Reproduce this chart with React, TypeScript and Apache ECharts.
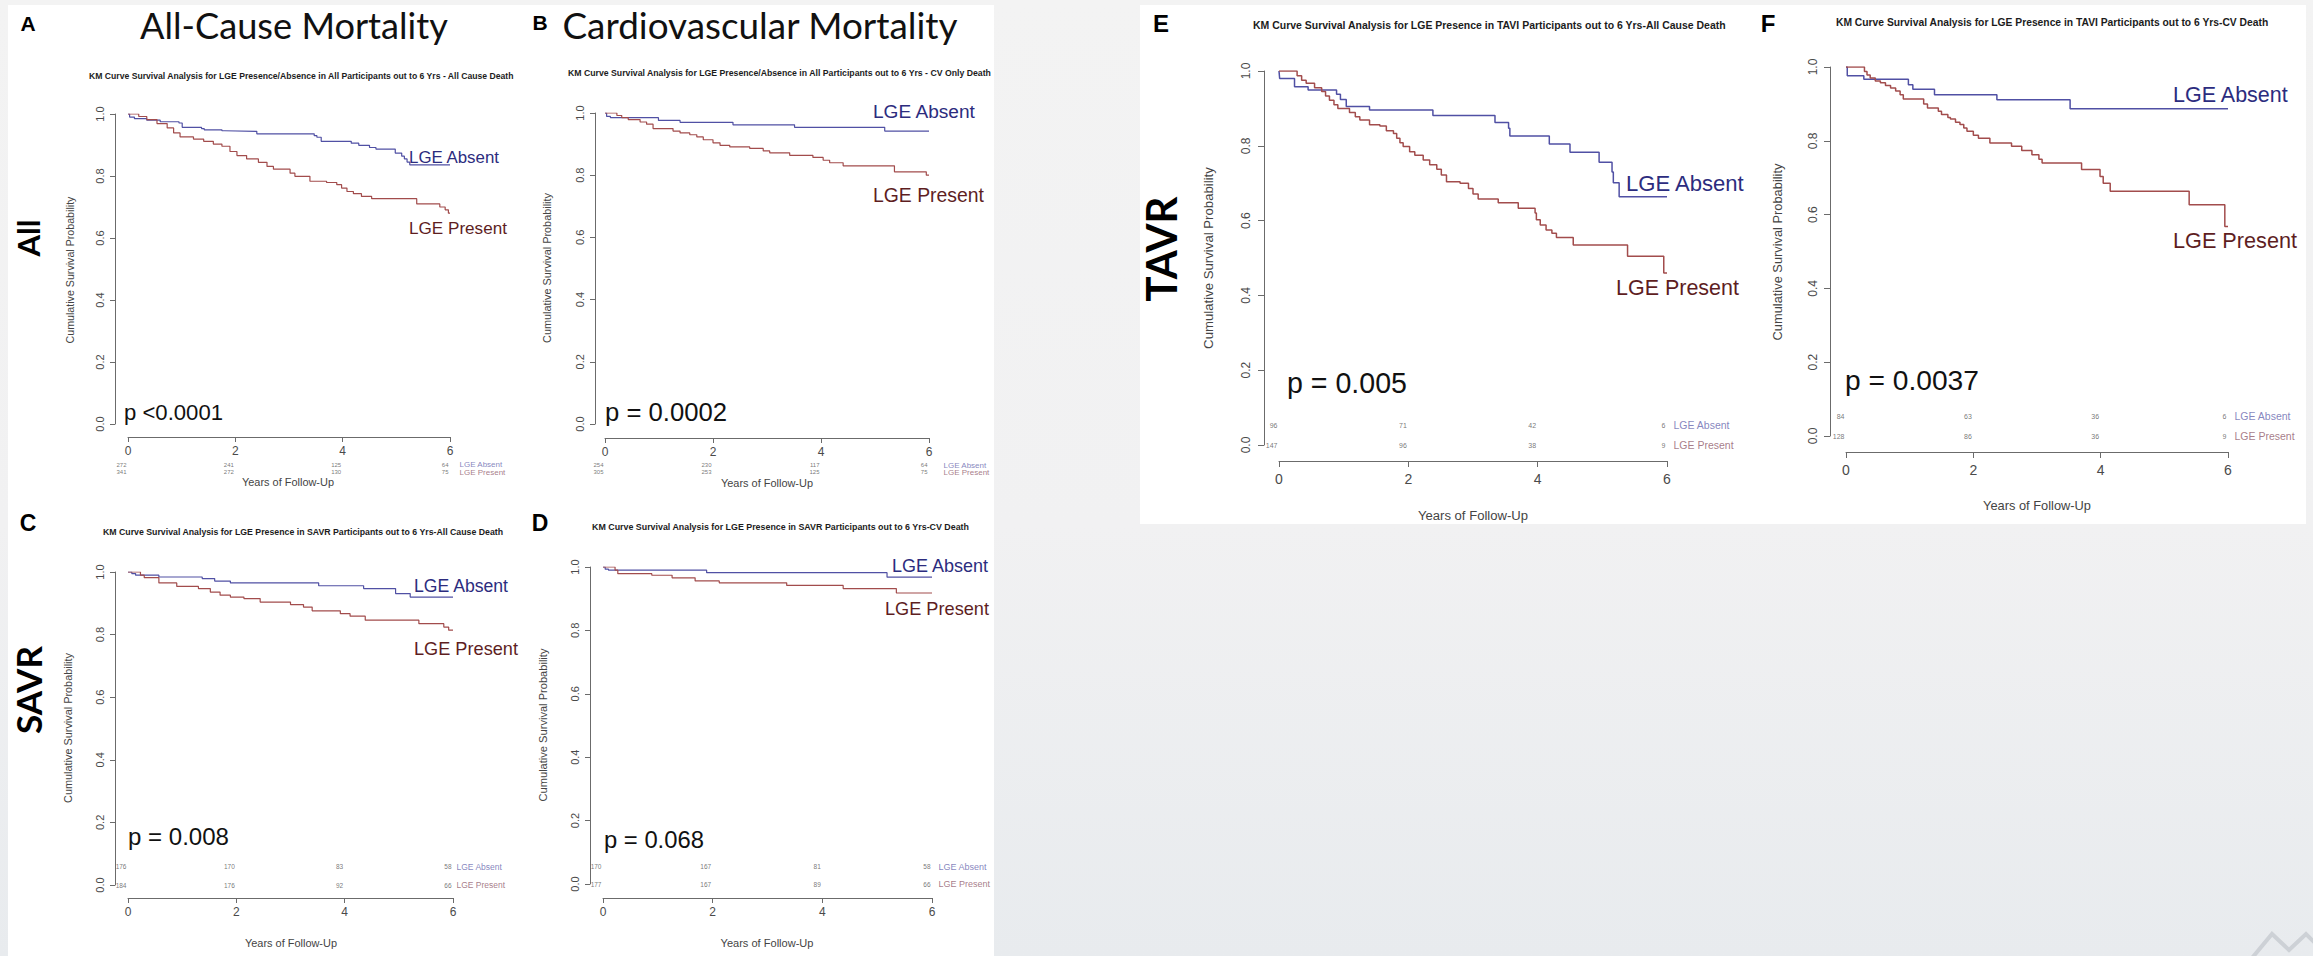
import React, { useEffect, useRef } from "react";
import * as echarts from "echarts";

type Pt = [number, number];

// ---------------- ticks / labels ----------------
const YEAR_TICKS = [0, 2, 4, 6];
const GROUPS = ["LGE Absent", "LGE Present"];
const COLUMN_TITLES = ["All-Cause Mortality", "Cardiovascular Mortality"];
const ROW_TITLES = ["All", "SAVR", "TAVR"];
const PANEL_LETTERS = ["A", "B", "C", "D", "E", "F"];
const Y_TITLE = "Cumulative Survival Probability";
const X_TITLE = "Years of Follow-Up";
const SUBTITLES = [
  "KM Curve Survival Analysis for LGE Presence/Absence in All Participants out to 6 Yrs - All Cause Death",
  "KM Curve Survival Analysis for LGE Presence/Absence in All Participants out to 6 Yrs - CV Only Death",
  "KM Curve Survival Analysis for LGE Presence in SAVR Participants out to 6 Yrs-All Cause Death",
  "KM Curve Survival Analysis for LGE Presence in SAVR Participants out to 6 Yrs-CV Death",
  "KM Curve Survival Analysis for LGE Presence in TAVI Participants out to 6 Yrs-All Cause Death",
  "KM Curve Survival Analysis for LGE Presence in TAVI Participants out to 6 Yrs-CV Death",
];
const P_VALUES = ["p <0.0001", "p = 0.0002", "p = 0.008", "p = 0.068", "p = 0.005", "p = 0.0037"];

// ---------------- KM curves (time in years, survival) ----------------
const A_ABSENT: Pt[] = [[0, 1], [0.03, 0.99], [0.12, 0.985], [0.35, 0.98], [0.6, 0.975], [0.95, 0.971], [1.01, 0.957], [1.37, 0.953], [1.42, 0.949], [1.75, 0.946], [1.8, 0.944], [2.4, 0.936], [3.47, 0.93], [3.52, 0.925], [3.6, 0.912], [4.16, 0.906], [4.3, 0.899], [4.5, 0.892], [4.62, 0.887], [4.98, 0.874], [5.1, 0.864], [5.15, 0.855], [5.2, 0.845], [5.25, 0.836], [6, 0.836]];
const A_PRESENT: Pt[] = [[0, 1], [0.2, 0.992], [0.35, 0.982], [0.54, 0.969], [0.73, 0.955], [0.85, 0.939], [0.97, 0.926], [1.22, 0.919], [1.41, 0.912], [1.59, 0.903], [1.75, 0.896], [1.9, 0.879], [2.03, 0.866], [2.21, 0.855], [2.43, 0.844], [2.59, 0.831], [2.71, 0.822], [3.02, 0.809], [3.11, 0.799], [3.39, 0.783], [3.7, 0.779], [3.89, 0.772], [3.98, 0.761], [4.08, 0.75], [4.2, 0.743], [4.35, 0.734], [4.54, 0.727], [5.38, 0.71], [5.81, 0.7], [5.91, 0.691], [5.97, 0.68], [6, 0.68]];

const B_ABSENT: Pt[] = [[0, 1], [0.03, 0.989], [0.1, 0.985], [0.99, 0.976], [1.39, 0.97], [2.37, 0.962], [3.51, 0.954], [5.18, 0.942], [6, 0.942]];
const B_PRESENT: Pt[] = [[0, 1], [0.22, 0.992], [0.31, 0.985], [0.43, 0.979], [0.65, 0.971], [0.77, 0.964], [0.89, 0.95], [1.26, 0.942], [1.39, 0.936], [1.57, 0.93], [1.7, 0.923], [1.82, 0.914], [2.0, 0.904], [2.13, 0.896], [2.31, 0.891], [2.68, 0.886], [2.93, 0.878], [3.05, 0.872], [3.42, 0.864], [3.85, 0.857], [4.04, 0.848], [4.16, 0.84], [4.41, 0.83], [5.36, 0.811], [5.95, 0.8], [6, 0.8]];

const C_ABSENT: Pt[] = [[0, 1], [0.07, 0.995], [0.14, 0.99], [0.57, 0.984], [1.37, 0.979], [1.6, 0.971], [1.89, 0.965], [3.52, 0.956], [4.35, 0.947], [4.94, 0.931], [5.21, 0.92], [6, 0.92]];
const C_PRESENT: Pt[] = [[0, 1], [0.23, 0.99], [0.3, 0.982], [0.57, 0.965], [0.9, 0.954], [1.3, 0.947], [1.52, 0.936], [1.7, 0.926], [1.89, 0.92], [2.14, 0.915], [2.44, 0.904], [3.0, 0.896], [3.24, 0.888], [3.4, 0.876], [3.92, 0.867], [4.1, 0.859], [4.38, 0.846], [5.37, 0.835], [5.83, 0.824], [5.92, 0.814], [6, 0.814]];

const D_ABSENT: Pt[] = [[0, 1], [0.04, 0.993], [0.1, 0.99], [1.89, 0.982], [5.18, 0.968], [6, 0.968]];
const D_PRESENT: Pt[] = [[0, 1], [0.22, 0.99], [0.27, 0.979], [0.89, 0.974], [1.26, 0.966], [1.68, 0.956], [2.12, 0.95], [3.35, 0.942], [4.38, 0.932], [5.35, 0.918], [6, 0.918]];

const E_ABSENT: Pt[] = [[0, 1], [0.01, 0.98], [0.24, 0.958], [0.45, 0.949], [0.89, 0.938], [0.95, 0.924], [1.04, 0.905], [1.4, 0.896], [2.38, 0.881], [3.34, 0.862], [3.55, 0.847], [3.57, 0.826], [4.18, 0.805], [4.5, 0.783], [4.95, 0.756], [5.15, 0.73], [5.17, 0.701], [5.26, 0.664], [6, 0.664]];
const E_PRESENT: Pt[] = [[0, 1], [0.28, 0.987], [0.35, 0.975], [0.42, 0.967], [0.55, 0.955], [0.66, 0.945], [0.72, 0.933], [0.78, 0.922], [0.85, 0.91], [0.91, 0.9], [1.09, 0.889], [1.18, 0.878], [1.25, 0.869], [1.4, 0.856], [1.56, 0.853], [1.66, 0.84], [1.77, 0.833], [1.82, 0.82], [1.87, 0.808], [1.92, 0.798], [2.02, 0.784], [2.1, 0.775], [2.23, 0.762], [2.33, 0.749], [2.44, 0.737], [2.51, 0.722], [2.59, 0.704], [2.8, 0.7], [2.93, 0.686], [3.0, 0.671], [3.08, 0.658], [3.39, 0.648], [3.7, 0.633], [3.96, 0.62], [3.98, 0.602], [4.04, 0.588], [4.13, 0.575], [4.22, 0.566], [4.29, 0.555], [4.55, 0.535], [5.39, 0.505], [5.95, 0.46], [6, 0.46]];

const F_ABSENT: Pt[] = [[0, 1], [0.02, 0.976], [0.28, 0.967], [0.98, 0.952], [1.05, 0.94], [1.39, 0.925], [2.37, 0.911], [3.52, 0.887], [6, 0.887]];
const F_PRESENT: Pt[] = [[0, 1], [0.29, 0.988], [0.33, 0.978], [0.38, 0.97], [0.46, 0.962], [0.54, 0.957], [0.62, 0.95], [0.7, 0.943], [0.78, 0.935], [0.85, 0.925], [0.9, 0.913], [1.22, 0.9], [1.28, 0.889], [1.45, 0.88], [1.5, 0.871], [1.6, 0.863], [1.64, 0.859], [1.72, 0.85], [1.79, 0.844], [1.85, 0.835], [1.9, 0.826], [2.0, 0.815], [2.08, 0.807], [2.26, 0.794], [2.6, 0.785], [2.76, 0.774], [2.92, 0.762], [3.03, 0.75], [3.08, 0.74], [3.7, 0.722], [3.99, 0.703], [4.04, 0.685], [4.15, 0.663], [5.39, 0.627], [5.95, 0.568], [6, 0.568]];

// ---------------- numbers at risk (at 0, 2, 4, 6 years) ----------------
const A_RISK_ABSENT = [272, 241, 125, 64];
const A_RISK_PRESENT = [341, 272, 130, 75];
const B_RISK_ABSENT = [254, 230, 117, 64];
const B_RISK_PRESENT = [305, 253, 125, 75];
const C_RISK_ABSENT = [176, 170, 83, 58];
const C_RISK_PRESENT = [184, 176, 92, 66];
const D_RISK_ABSENT = [170, 167, 81, 58];
const D_RISK_PRESENT = [177, 167, 89, 66];
const E_RISK_ABSENT = [96, 71, 42, 6];
const E_RISK_PRESENT = [147, 96, 38, 9];
const F_RISK_ABSENT = [84, 63, 36, 6];
const F_RISK_PRESENT = [128, 86, 36, 9];

// ---------------- styles / layout ----------------
const W = 2313;
const H = 956;
const ARIAL = "'Liberation Sans', Arial, Helvetica, sans-serif";
const HUMANIST = "Lato, 'Open Sans', sans-serif";
const AXIS_GREY = "#6b6b6b";
const TICK_TEXT = "#4a4a4a";
const BLUE_LINE = "#5050a4";
const RED_LINE = "#a24c4c";
const BLUE_TEXT = "#2c2c7e";
const RED_TEXT = "#5e1e1f";
const RISK_BLUE = "#6666ad";
const RISK_RED = "#8f5a6a";

interface Layout {
  left: number; top: number; width: number; height: number;
  yOff: number; xOff: number; tickLen: number;
  yFs: number; xFs: number; yMargin: number; xMargin: number; lineW: number;
  riskLv: [number, number]; riskFs: number; riskLabFs: number; riskGap: number;
  sub: [number, number, number];
  yTitle: [number, number, number];
  xTitle: [number, number, number];
  p: [number, number, number];
  absLab: [number, number, number];
  preLab: [number, number, number];
  letter: [number, number, number];
}

const LAYOUT_A: Layout = { left: 128, top: 114, width: 322, height: 310, yOff: 13, xOff: 13, tickLen: 5, yFs: 11, xFs: 12, yMargin: 10, xMargin: 8, lineW: 1.2, riskLv: [-0.132, -0.155], riskFs: 6, riskLabFs: 8, riskGap: 9, sub: [89, 515, 76], yTitle: [70, 270, 147], xTitle: [288, 482, 92], p: [124, 412, 99], absLab: [409, 157, 91], preLab: [409, 228, 98], letter: [28, 23, 21] };
const LAYOUT_B: Layout = { left: 605, top: 113, width: 324, height: 311, yOff: 10, xOff: 14, tickLen: 5, yFs: 11, xFs: 12, yMargin: 10, xMargin: 8, lineW: 1.2, riskLv: [-0.132, -0.155], riskFs: 6, riskLabFs: 8, riskGap: 14, sub: [568, 992, 73], yTitle: [547, 268, 150], xTitle: [767, 483, 92], p: [605, 412, 122], absLab: [873, 111, 103], preLab: [873, 195, 111], letter: [540, 22, 21] };
const LAYOUT_C: Layout = { left: 128, top: 572, width: 325, height: 313, yOff: 13, xOff: 13, tickLen: 5, yFs: 11, xFs: 12, yMargin: 10, xMargin: 8, lineW: 1.2, riskLv: [0.058, 0], riskFs: 6.5, riskLabFs: 8.5, riskGap: 3, sub: [103, 504, 532], yTitle: [68, 728, 150], xTitle: [291, 943, 92], p: [128, 836, 101], absLab: [414, 586, 95], preLab: [414, 649, 104], letter: [28, 523, 23] };
const LAYOUT_D: Layout = { left: 603, top: 567, width: 329, height: 317, yOff: 13, xOff: 14, tickLen: 5, yFs: 11, xFs: 12, yMargin: 10, xMargin: 8, lineW: 1.2, riskLv: [0.054, 0], riskFs: 6.5, riskLabFs: 9, riskGap: 6, sub: [592, 970, 527], yTitle: [543, 725, 153], xTitle: [767, 943, 93], p: [604, 839, 100], absLab: [892, 566, 97], preLab: [885, 609, 104], letter: [540, 523, 23] };
const LAYOUT_E: Layout = { left: 1279, top: 71, width: 388, height: 374, yOff: 15, xOff: 16, tickLen: 6, yFs: 12, xFs: 14, yMargin: 12, xMargin: 11, lineW: 1.5, riskLv: [0.053, 0], riskFs: 7, riskLabFs: 10.5, riskGap: 6, sub: [1253, 1726, 25], yTitle: [1208, 258, 182], xTitle: [1473, 515, 110], p: [1287, 383, 120], absLab: [1626, 183, 119], preLab: [1616, 288, 123], letter: [1161, 23, 24] };
const LAYOUT_F: Layout = { left: 1846, top: 67, width: 382, height: 369, yOff: 16, xOff: 16, tickLen: 6, yFs: 12, xFs: 14, yMargin: 11, xMargin: 11, lineW: 1.5, riskLv: [0.054, 0], riskFs: 7, riskLabFs: 10.5, riskGap: 6, sub: [1836, 2269, 22], yTitle: [1777, 252, 177], xTitle: [2037, 505, 108], p: [1845, 380, 134], absLab: [2173, 95, 116], preLab: [2173, 240, 124], letter: [1768, 23, 24] };

const PANELS = [
  { absent: A_ABSENT, present: A_PRESENT, riskAbsent: A_RISK_ABSENT, riskPresent: A_RISK_PRESENT, layout: LAYOUT_A },
  { absent: B_ABSENT, present: B_PRESENT, riskAbsent: B_RISK_ABSENT, riskPresent: B_RISK_PRESENT, layout: LAYOUT_B },
  { absent: C_ABSENT, present: C_PRESENT, riskAbsent: C_RISK_ABSENT, riskPresent: C_RISK_PRESENT, layout: LAYOUT_C },
  { absent: D_ABSENT, present: D_PRESENT, riskAbsent: D_RISK_ABSENT, riskPresent: D_RISK_PRESENT, layout: LAYOUT_D },
  { absent: E_ABSENT, present: E_PRESENT, riskAbsent: E_RISK_ABSENT, riskPresent: E_RISK_PRESENT, layout: LAYOUT_E },
  { absent: F_ABSENT, present: F_PRESENT, riskAbsent: F_RISK_ABSENT, riskPresent: F_RISK_PRESENT, layout: LAYOUT_F },
];

// column / row headings: [centre x, centre y, length]
const COLUMN_TITLE_POS: [number, number, number][] = [[294, 25, 308], [760, 25, 396]];
const ROW_TITLE_POS: [number, number, number][] = [[28, 238, 37], [28, 690, 88], [1161, 249, 105]];

let measureCtx: CanvasRenderingContext2D | null = null;
function fit(text: string, family: string, weight: string, width: number): number {
  if (!measureCtx) measureCtx = document.createElement("canvas").getContext("2d");
  if (!measureCtx) return 12;
  measureCtx.font = `${weight} 100px ${family}`;
  const w = measureCtx.measureText(text).width || 1;
  return Math.round((10000 * width) / w) / 100;
}

function txt(text: string, x: number, y: number, fontSize: number, o: any = {}) {
  const align = o.align || "center";
  const vAlign = o.vAlign || "middle";
  return {
    type: "text",
    x,
    y,
    rotation: o.rotation || 0,
    silent: true,
    z: 10,
    style: {
      text,
      fill: o.fill || "#111",
      fontSize,
      fontFamily: o.family || ARIAL,
      fontWeight: o.weight || "normal",
      align,
      verticalAlign: vAlign,
      textAlign: align,
      textVerticalAlign: vAlign,
    },
  };
}

function buildOption() {
  const grid: any[] = [];
  const xAxis: any[] = [];
  const yAxis: any[] = [];
  const series: any[] = [];
  const elements: any[] = [];

  PANELS.forEach((P, i) => {
    const L = P.layout;
    grid.push({ left: L.left, top: L.top, width: L.width, height: L.height, show: false });
    xAxis.push({
      gridIndex: i, type: "value", min: 0, max: 6, interval: 2, offset: L.xOff,
      axisLine: { show: true, onZero: false, lineStyle: { color: AXIS_GREY, width: 1 } },
      axisTick: { show: true, length: L.tickLen, lineStyle: { color: AXIS_GREY, width: 1 } },
      axisLabel: { fontSize: L.xFs, color: TICK_TEXT, fontFamily: ARIAL, margin: L.xMargin },
      splitLine: { show: false },
    });
    yAxis.push({
      gridIndex: i, type: "value", min: 0, max: 1, interval: 0.2, offset: L.yOff,
      axisLine: { show: true, onZero: false, lineStyle: { color: AXIS_GREY, width: 1 } },
      axisTick: { show: true, length: L.tickLen, lineStyle: { color: AXIS_GREY, width: 1 } },
      axisLabel: { fontSize: L.yFs, color: TICK_TEXT, fontFamily: ARIAL, margin: L.yMargin, rotate: 90, formatter: (v: number) => v.toFixed(1) },
      splitLine: { show: false },
    });
    const km = (name: string, data: Pt[], color: string) => ({
      type: "line", name, xAxisIndex: i, yAxisIndex: i, data, step: "end",
      showSymbol: false, symbol: "none", silent: true, z: 3,
      lineStyle: { color, width: L.lineW }, itemStyle: { color },
    });
    series.push(km(GROUPS[0], P.absent, BLUE_LINE), km(GROUPS[1], P.present, RED_LINE));
    const risk = (counts: number[], lv: number) => ({
      type: "scatter", xAxisIndex: i, yAxisIndex: i, symbolSize: 1, silent: true, clip: false,
      itemStyle: { color: "rgba(0,0,0,0)" },
      data: counts.map((n, k) => ({ name: String(n), value: [YEAR_TICKS[k], lv] })),
      label: { show: true, position: "left", distance: 1, formatter: "{b}", fontSize: L.riskFs, color: "#555", fontFamily: ARIAL },
    });
    series.push(risk(P.riskAbsent, L.riskLv[0]), risk(P.riskPresent, L.riskLv[1]));
    const lastT = YEAR_TICKS[YEAR_TICKS.length - 1];
    series.push({
      type: "scatter", xAxisIndex: i, yAxisIndex: i, symbolSize: 1, silent: true, clip: false,
      itemStyle: { color: "rgba(0,0,0,0)" },
      data: [
        { name: GROUPS[0], value: [lastT, L.riskLv[0]], label: { color: RISK_BLUE } },
        { name: GROUPS[1], value: [lastT, L.riskLv[1]], label: { color: RISK_RED } },
      ],
      label: { show: true, position: "right", distance: L.riskGap, formatter: "{b}", fontSize: L.riskLabFs, fontFamily: ARIAL },
    });

    // annotations
    elements.push(txt(PANEL_LETTERS[i], L.letter[0], L.letter[1], L.letter[2], { weight: "bold", fill: "#000" }));
    const sub = SUBTITLES[i];
    elements.push(txt(sub, L.sub[0], L.sub[2], fit(sub, ARIAL, "bold", L.sub[1] - L.sub[0]), { weight: "bold", align: "left", fill: "#1c1c1c" }));
    elements.push(txt(Y_TITLE, L.yTitle[0], L.yTitle[1], fit(Y_TITLE, ARIAL, "normal", L.yTitle[2]), { rotation: Math.PI / 2, fill: "#444" }));
    elements.push(txt(X_TITLE, L.xTitle[0], L.xTitle[1], fit(X_TITLE, ARIAL, "normal", L.xTitle[2]), { fill: "#444" }));
    const pv = P_VALUES[i];
    elements.push(txt(pv, L.p[0], L.p[1], fit(pv, ARIAL, "normal", L.p[2]), { align: "left", fill: "#111" }));
    elements.push(txt(GROUPS[0], L.absLab[0], L.absLab[1], fit(GROUPS[0], ARIAL, "normal", L.absLab[2]), { align: "left", fill: BLUE_TEXT }));
    elements.push(txt(GROUPS[1], L.preLab[0], L.preLab[1], fit(GROUPS[1], ARIAL, "normal", L.preLab[2]), { align: "left", fill: RED_TEXT }));
  });

  COLUMN_TITLES.forEach((t, k) => {
    const [x, y, w] = COLUMN_TITLE_POS[k];
    elements.push(txt(t, x, y, fit(t, HUMANIST, "normal", w), { family: HUMANIST, fill: "#111" }));
  });
  ROW_TITLES.forEach((t, k) => {
    const [x, y, w] = ROW_TITLE_POS[k];
    elements.push(txt(t, x, y, fit(t, HUMANIST, "bold", w), { family: HUMANIST, weight: "bold", fill: "#000", rotation: Math.PI / 2 }));
  });
  elements.push({
    type: "polyline", silent: true, z: 1,
    shape: { points: [[2252, 958], [2272, 934], [2289, 950], [2306, 934], [2316, 944]] },
    style: { stroke: "#cdd1d6", lineWidth: 4, fill: "none" },
  });

  return {
    animation: false,
    backgroundColor: "transparent",
    textStyle: { fontFamily: ARIAL },
    grid,
    xAxis,
    yAxis,
    series,
    graphic: { elements },
  };
}

export default function App() {
  const ref = useRef<HTMLDivElement>(null);
  useEffect(() => {
    if (!ref.current) return;
    const chart = echarts.init(ref.current, undefined, { renderer: "svg", width: W, height: H });
    chart.setOption(buildOption() as any);
    return () => chart.dispose();
  }, []);
  return (
    <div
      style={{
        position: "fixed", left: 0, top: 0, width: W, height: H, overflow: "hidden",
        background: "linear-gradient(180deg, #f3f3f3 0%, #f1f1f2 55%, #e8ebee 100%)",
      }}
    >
      <div style={{ position: "absolute", left: 8, top: 5, width: 986, height: H - 5, background: "#ffffff" }} />
      <div style={{ position: "absolute", left: 1140, top: 5, width: 1166, height: 519, background: "#ffffff" }} />
      <div ref={ref} style={{ position: "absolute", left: 0, top: 0, width: W, height: H }} />
    </div>
  );
}
